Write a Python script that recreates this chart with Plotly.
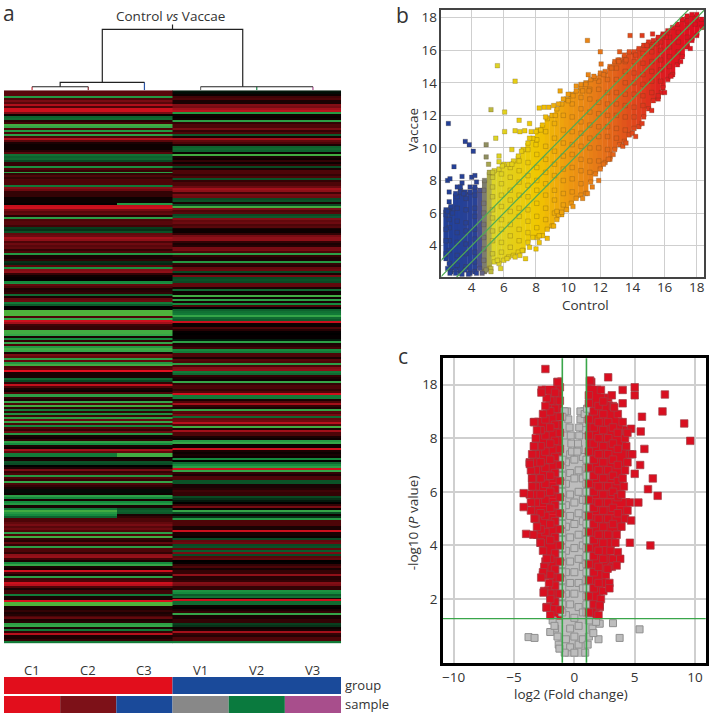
import plotly.graph_objects as go

W, H = 709, 715
def px(x): return x / W
def py(y): return 1 - y / H

# ---------- panel a: heatmap rows read top to bottom ----------
control_top = [.35,.35,.35,-.8,.3,.5,.35,.75,.3,.9,.9,.5,.05,-.45,-.5,.15,.25,-.95,-.9,.3,-.8,.3,-.85,.3,.75,.35,.1,.05,.05,.05,.15,.35,-.55,-.45,-.5,-.3,.2,.2,-.75,.3,.2,-.85,.2,.3,.2,.3]
control_mid = [.3,.3,-.6,.55,.45,.2,.2,.2,.05,.05,.05,.02,.85,.9,.5,.35,.4,.15,-.85,.3,.35,.35,.25,-.25,-.2,-.35,.4,.45,.7,.6,.3,.45,.35,.4,.2,.3,-.8,.1,.1,.2,-.2,-.15,.35,-.75,.55,.6,.2,.05,.02,.02,-.7,-.75,.4,.3,.1,.15,.2,-.5,.1,.4,.45,-.6,-.4,0,.02,-1,-1,-1,.3,-.9,.9,.7,.25,.2,.2,-.95,-.95,-.9,.1,-.7,.2,-.9,.3,-.8,-.95,-.9,.1,.5,.4,-.85,.4,-.8,-.95,.3,.35,1,.1,.1,.1,-.5,-.3,.2,.85,.3,.1,.05,.3,-.85,-.85,.2,.1,-.9,.3,-.95,.2,-.6]
control_low = [.2,-.75,.25,-.85,.4,-.9,.3,-.7,.3,.2,.45,-.8,.1,.05,.2,-.85,-.7,.1,.05,.7,.4,-.6,-.6,.05,.1,-.35,-.3,0,.1,.5,.2,.3,-.8,.3,.2,-.9,.3,.2,.1,-.05,-.05,.05,-.85,-.7,.1,-.7,-.8,.1,.1,-.6,-.95,-.8,-.7,-.45,.3,.3,.4,.5,.35,.45,.3,-.85,.3,-.95,.2,.15,.4,.2,-.85,.3,.3,.2,.6,.65,.25,.1,-.7,-.9,.1,.05,.9,.25,.1,-.85,.25,.3,.9,.8,.3,.1,.25,.25,-.6,.1,.1,.95,-1,-1,.1,.1,.2,.1,.15,.3,.4,.1,.15,-.85,-.9,.1,-.6,.2,.8,.1,.1,.2,-.6]
vaccae_top = [-.1,-.05,.05,.25,.3,.1,.1,.55,.5,.7,.8,-.8,.05,.02,.05,-.85,.2,.3,.3,.5,.2,.3,-.4,.1,.7,.4,.3,.1,-.45,-.5,-.45,.05,-.95,.1,.05,.2,.05,.2,-.3,.1,.3,.3,.2,.3,-.35,.2]
vaccae_mid = [.3,.3,.45,.7,.6,.25,.5,.45,-.3,-.35,.1,-.3,-.95,.5,.3,.35,-.3,-.4,.55,.4,.45,.3,.35,.1,.05,.05,.2,.5,.6,.6,.2,.1,.15,.5,.5,.3,-.85,.2,.1,.1,-.8,.2,.15,.4,.45,-.3,.1,.5,-.3,-.35,-.3,.4,.4,.1,-.5,.05,.05,-.95,.05,-.85,.1,-.7,.3,0,-.45,-.55,-.6,-.9,-.5,-.4,.9,.05,.05,.3,.15,.02,0,.02,.02,-.1,-.85,.1,.15,.25,-.7,-.6,.3,.3,.1,.35,.3,-.85,.3,.55,.6,-.6,-.5,.2,.1,.05,-.9,.2,.3,.3,.2,.3,.9,-.6,-.6,.1,.3,.7,.2,.1,-.9]
vaccae_low = [.35,.3,.5,-.5,.4,.45,.8,.3,-.95,.1,.7,.3,.3,.1,.05,-.8,-.9,.05,.05,.9,.1,.05,.1,.05,-.7,.02,-.5,-.7,-.85,.9,-.9,.2,.1,.3,.3,-.35,-.35,.1,.1,.15,.25,.2,.2,-.3,-.2,-.1,0,.2,.5,.05,-.9,-.3,.05,-.2,-.8,.3,.3,.3,.1,.1,.9,.1,.1,.05,-.3,.4,.45,-.3,-.35,.4,-.4,.5,-.3,.35,.4,0,.02,.2,.3,.1,.2,.2,.6,.15,.15,.2,.55,.5,.2,.2,-.75,-.7,-.4,-.55,.1,.9,-.5,-.5,.05,.02,.1,.2,-.9,.1,.1,.2,.2,-.25,-.2,.05,.1,.7,.2,.15,.3,.3,-.6]
c3_mid_overrides = {11: -.8}
c3_low_overrides = {21: -.95, 22: -.95, 49: -.35, 50: -.45, 51: -.4, 52: .1, 53: .2}

control_rows = control_top + control_mid + control_low
vaccae_rows = vaccae_top + vaccae_mid + vaccae_low
control_c3 = list(control_rows)
for k, v in c3_mid_overrides.items():
    control_c3[len(control_top) + k] = v
for k, v in c3_low_overrides.items():
    control_c3[len(control_top) + len(control_mid) + k] = v
heat_scale = [[0,"#4fb23c"],[.05,"#35a548"],[.15,"#158a3e"],[.35,"#0a4a24"],[.5,"#000000"],[.65,"#4d0508"],[.8,"#8e1018"],[1,"#e2101f"]]

col_labels = ["C1","C2","C3","V1","V2","V3"]
group_colors = ["#e20e1c","#1a4a9a"]
sample_colors = ["#e20e1c","#7d1118","#1a4a9a","#888888","#0a7a3e","#a84e8c"]

dendro = [
    ([.5,.5],[0,3.5],"#c8323c"),([1.5,1.5],[0,3.5],"#8a2a30"),([2.5,2.5],[0,8],"#2a55a8"),
    ([3.5,3.5],[0,3.5],"#777777"),([4.5,4.5],[0,3.5],"#1a8a4a"),([5.5,5.5],[0,3.5],"#a84e8c"),
    ([.5,.5,1.5,1.5],[3.5,3.5,3.5,3.5],"#222222"),
    ([1,1,2.5],[3.5,8,8],"#222222"),
    ([3.5,5.5],[3.5,3.5],"#222222"),
    ([1.75,1.75,4.25,4.25],[8,61,61,3.5],"#222222"),
    ([3,3],[61,66],"#222222"),
]

# ---------- panel b: cloud limits per Control column ----------
cloud_x = [2.4,2.7,3.0,3.3,3.6,3.9,4.2,4.5,4.8,5.1,5.4,5.7,6.0,6.3,6.6,6.9,7.2,7.5,7.8,8.1,8.4,8.7,9.0,9.3,9.6,9.9,10.2,10.5,10.8,11.1,11.4,11.7,12.0,12.3,12.6,12.9,13.2,13.5,13.8,14.1,14.4,14.7,15.0,15.3,15.6,15.9,16.2,16.5,16.8,17.1,17.4,17.7,18.0,18.3]
cloud_low = [3.2,2.4,2.5,2.3,2.5,2.3,2.4,2.6,2.4,2.6,3.0,2.9,3.1,3.3,3.4,3.6,3.7,4.2,4.5,4.5,4.6,5.0,5.2,5.6,5.9,6.2,6.6,6.9,7.1,7.2,7.9,8.4,8.7,9.1,9.3,9.9,10.2,10.4,10.8,11.2,11.3,11.9,12.4,12.9,13.0,13.7,14.2,14.5,15.1,15.6,16.2,16.6,16.9,17.4]
cloud_high = [6.2,6.4,7.2,7.4,7.3,7.3,7.6,7.4,8.0,8.5,8.6,8.7,9.0,9.0,9.2,9.5,9.9,10.3,10.6,11.1,11.4,11.8,12.0,12.4,12.7,13.0,13.3,13.5,13.7,14.0,14.2,14.3,14.6,14.7,15.0,15.3,15.4,15.7,15.9,15.9,16.1,16.3,16.5,16.6,16.8,17.0,17.2,17.4,17.6,17.9,18.1,18.2,18.2,17.9]
interior_x = [2.6,3.1,3.65,4.2,4.75,5.3,5.85,6.4,6.95,7.5,8.05,8.6,9.15,9.7,10.25,10.8,11.35,11.9,12.45,13.0,13.55,14.1,14.65,15.2,15.75,16.3,16.85,17.4,17.9]
interior_y = [
 [2.9,3.7,4.3,5.1,5.6,6.1,6.7],[2.8,3.4,4.2,4.8,5.5,6.3,7.0],[2.7,3.5,4.1,4.9,5.4,6.2,6.9],[3.0,3.6,4.4,5.0,5.8,6.3,7.1],
 [3.1,3.8,4.5,5.3,6.0,6.6,7.4],[3.5,4.3,4.9,5.7,6.2,7.0,7.6,8.2],[3.6,4.2,5.0,5.6,6.4,7.1,7.8,8.4],[3.9,4.6,5.3,6.1,6.8,7.4,8.2,8.8],
 [4.3,5.0,5.8,6.3,7.1,7.9,8.6,9.2],[4.8,5.5,6.2,7.0,7.7,8.3,9.1,9.9],[5.1,5.8,6.6,7.4,8.0,8.8,9.6,10.5],[5.6,6.3,7.1,7.8,8.5,9.3,10.1,11.0],
 [6.0,6.8,7.4,8.3,9.0,9.8,10.6,11.5],[6.5,7.2,8.0,8.7,9.5,10.3,11.1,12.0],[7.3,8.1,8.8,9.6,10.2,11.0,11.9,12.7],[7.8,8.6,9.3,10.1,10.9,11.6,12.4,13.1],
 [8.5,9.2,10.0,10.6,11.4,12.2,13.0,13.6],[9.2,10.0,10.7,11.3,12.1,12.8,13.6,14.1],[9.9,10.7,11.3,12.0,12.7,13.4,14.2],[10.6,11.2,12.0,12.7,13.4,14.2,14.9],
 [11.1,11.9,12.6,13.3,14.0,14.7,15.3],[11.9,12.5,13.3,14.0,14.6,15.3],[12.6,13.2,13.9,14.5,15.2,15.8],[13.4,14.1,14.7,15.3,15.9,16.2],
 [14.1,14.8,15.4,16.0,16.5],[15.0,15.6,16.2,16.8],[15.9,16.5,17.1],[16.8,17.4,17.8],[17.6,18.0]]
rim_x = [5.3,5.9,6.5,7.1,7.6,8.0,8.3,8.6,9.2,9.4,10.0,10.3,10.9,11.3,11.6,12.2,12.7,13.1,13.6,14.2,14.9,15.5,16.1,5.6,6.2,6.7,7.0,7.6,8.2,9.1,9.4,10.3,10.9,11.5,11.9,12.2,12.8,13.4,14.0,14.6,15.2,15.8,16.4,17.0,17.6,2.4,2.4,2.4,2.4,2.5,2.8,2.5,2.65,3.0,3.4,3.8,4.3]
rim_y = [8.5,8.9,9.0,9.8,10.6,10.2,11.1,11.9,12.0,12.7,12.9,13.2,13.5,13.5,14.4,14.5,14.9,15.4,15.4,15.7,16.3,16.4,16.8,3.1,3.2,3.3,3.4,3.9,4.2,5.2,5.9,6.4,6.9,7.6,8.0,9.0,9.6,10.1,10.9,11.5,12.3,13.4,14.4,15.3,16.1,3.5,4.3,5.0,5.9,6.1,6.0,2.6,2.3,2.3,2.25,2.25,2.3]
outlier_x = [2.55,3.6,3.85,4.1,2.9,2.5,2.65,3.4,4,4.2,3.4,3.1,3.3,4.3,3.9,2.6,3.3,3.5,5.6,6.7,5.2,6.05,6.95,7.6,6.05,6.7,7,7.3,5.5,7.7,8,8.2,8.5,8.8,9.1,9.5,9.7,10,10.5,10.8,11.1,11.25,11.2,12,12.05,13.15,13.2,13.85,14.6,15.25,15.9,4.9,4.9,5.05,5.7,5.7,6.5,8,7.35,7.15,5.2,5.8,5.2,8.7,8.2,9.6,9.3,14.2,13.6,12.5,11.2,16,15.6,4.9,4.65]
outlier_y = [11.5,10.4,10.2,9.8,8.85,8,8.1,8.25,8.2,8.3,7.85,7.6,7.6,7.9,7.6,7.3,7.3,7.2,15.05,14.1,12.35,12.2,11.7,11.5,11,11.05,11,11.05,10.6,11,11,12.45,12.5,12.5,12.6,13.5,13,13.3,13.8,13.9,13.9,14.5,16.6,15.9,15.15,15.3,15.9,16.9,16.9,17,16.9,10.2,9.45,9,9.5,9.15,9.9,3.8,3.2,3.7,2.6,2.6,2.4,4.45,4.6,6.05,6.1,10.7,10.3,9.3,7.2,13.4,13.2,2.5,2.3]
b_ticks = [4,6,8,10,12,14,16,18]
fold_lines = [-1,0,1]
expr_scale = [[0,"#1f3f99"],[.14,"#2a4296"],[.158,"#5a5a8a"],[.18,"#9a9a58"],[.206,"#dcd428"],[.364,"#f0c800"],[.485,"#ee9a10"],[.606,"#e67518"],[.727,"#e04a1c"],[.848,"#de1a20"],[1,"#e00a20"]]

# ---------- panel c: limits per row of the y axis ----------
red_y = [1.4,1.7,2.0,2.3,2.6,2.9,3.2,3.5,3.8,4.1,4.4,4.7,5.0,5.3,5.6,5.9,6.2,6.5,6.8,7.1,7.4,7.7,8.0,8.3,8.6,8.9,9.2,9.5,9.8,10.1]
red_left = [-2.0,-2.3,-2.0,-2.5,-2.1,-2.6,-2.5,-2.3,-2.6,-2.8,-3.4,-3.1,-3.3,-3.6,-3.6,-3.7,-3.5,-3.5,-3.6,-3.7,-3.5,-3.3,-3.2,-3.1,-3.3,-2.6,-2.4,-2.3,-2.7,-1.4]
red_right = [2.0,2.1,2.2,2.4,2.9,2.6,3.1,3.2,3.0,3.4,3.5,3.9,4.2,4.4,4.6,3.9,4.1,4.0,4.2,4.4,4.6,4.3,4.2,4.3,4.0,3.6,3.2,2.8,2.2,1.4]
red_out_x = [-2.4,-1.38,-2.73,-3.36,-3.36,-3.7,-3.5,-4.2,-4.2,-4.0,-2.8,-2.6,-2.75,-2.55,-2.3,2.8,1.3,5,4,5,7.5,3.1,2.4,4,3.3,7.3,5.6,9.1,5.5,9.6,4.7,4.4,5.8,4.8,5.45,5,6.5,6.1,6.9,5.3,4.7,4.6,6.3,3.6,3.8,3.5,2.9,2.75,2.1]
red_out_y = [10.58,10.09,9.7,8.6,7.7,7.04,6.5,5.95,5.43,4.43,4.1,3.0,2.8,2.24,1.68,10.27,10.15,9.9,9.8,9.6,9.63,9.6,9.37,9.3,9.15,9,8.8,8.55,8.25,7.9,8.35,8.2,7.6,7.4,7.0,6.67,6.5,6.1,5.85,5.6,4.93,4.1,4,3.75,3.5,3.25,2.4,3.13,1.76]
red_in_x = [-1.2,-1.6,-2.0,-2.4,-2.8,-3.2,1.2,1.6,2.0,2.4,2.8,3.2,3.6]
red_in_y = [
 [1.6,2.2,2.8,3.4,4,4.6,5.2,5.8,6.4,7,7.6,8.2,8.8,9.4,9.9],[1.9,2.5,3.1,3.7,4.3,4.9,5.5,6.1,6.7,7.3,7.9,8.5,9.1,9.7],
 [2.2,2.9,3.5,4.2,4.8,5.4,6,6.6,7.2,7.8,8.4,9.0,9.4],[3.4,4.5,5.1,5.7,6.3,6.9,7.5,8.1,8.7],[4.6,5.2,5.9,6.5,7.1,7.7,8.3],[5.0,5.6,6.2,6.8,7.4],
 [1.5,2.1,2.7,3.3,3.9,4.5,5.1,5.7,6.3,6.9,7.5,8.1,8.7,9.3,9.6],[1.8,2.4,3.0,3.6,4.2,4.8,5.4,6.0,6.6,7.2,7.8,8.4,9.0],
 [2.6,3.2,3.8,4.4,5.0,5.6,6.2,6.8,7.4,8.0,8.6,9.2],[3.5,4.1,4.7,5.3,5.9,6.5,7.1,7.7,8.3,8.9],[4.4,5.0,5.6,6.2,6.8,7.4,8.0,8.6],[4.8,5.4,6.0,6.6,7.2,7.8,8.4],[5.2,5.8,6.4,7,7.6,8.2]]
red_limit = [-.95,.95]
grey_y = [0.0,.3,.6,.9,1.2,1.5,1.8,2.1,2.4,2.7,3.0,3.3,3.6,3.9,4.2,4.5,4.8,5.1,5.4,5.7,6.0,6.3,6.6,6.9,7.2]
grey_left = [-.8,-1.3,-1.4,-1.6,-1.8,-1,-1,-1,-1,-1,-1,-1,-1,-1,-1,-1,-1,-1,-1,-1,-1,-1,-1,-1,-1]
grey_right = [.9,1.1,1.2,1.5,1.2,1,1,1,1,1,1,1,1,1,1,1,1,1,1,1,1,1,1,1,1]
notch_y = [7.5,7.8,8.1,8.4,8.7,9.0]
notch_left = [-.2,-.25,-.3,-.4,-.5,-.6]
notch_right = [.25,.3,.4,.4,.5,.5]
grey_out_x = [-3.8,-3.3,-2,3.2,5.4,3.75,2,2.1,1.8,1.57,-1.24,-1.65,-.8,-1.0,.85,1.05]
grey_out_y = [.58,.55,.77,1.1,.87,.55,.5,1.08,1.15,.73,.15,1.0,9.0,8.8,8.9,9.1]
grey_in_x = [-.7,-.35,0,.35,.7]
grey_in_y = [[.5,1.4,2.2,3.0,3.8,4.7,5.5,6.3,7.1,8.1],[.2,.9,1.8,2.6,3.4,4.3,5.1,5.9,6.7,7.4],[0,.6,1.3,2.2,3.0,3.9,4.8,5.6,6.5,7.2],[.3,1.0,1.7,2.6,3.5,4.4,5.2,6.0,6.8,7.6],[.5,1.5,2.4,3.2,4.0,4.9,5.7,6.5,7.3,8.3]]
c_xticks = [-10,-5,0,5,10]
c_ytick_pos = [2,4,6,8,10]
c_ytick_text = ["2","4","6","8","18"]
fold_thresholds = [-1,1]
p_threshold = 1.27

def flatten(xs, yss):
    fx, fy = [], []
    for x, ys in zip(xs, yss):
        fx += [x] * len(ys)
        fy += ys
    return fx, fy

fig = go.Figure()
n_c, n_v = len(control_rows), len(vaccae_rows)
fig.add_trace(go.Heatmap(
    x=[.5,1.5,2.5], y=[(i+.5)/n_c for i in range(n_c)],
    z=[[v, v, c3] for v, c3 in zip(control_rows, control_c3)],
    zmin=-1, zmax=1, colorscale=heat_scale, showscale=False, xaxis="x", yaxis="y"))
fig.add_trace(go.Heatmap(
    x=[3.5,4.5,5.5], y=[(i+.5)/n_v for i in range(n_v)],
    z=[[v, v, v] for v in vaccae_rows],
    zmin=-1, zmax=1, colorscale=heat_scale, showscale=False, xaxis="x", yaxis="y"))
for xs, ys, c in dendro:
    fig.add_trace(go.Scatter(x=xs, y=ys, mode="lines", line=dict(color=c, width=1.2), xaxis="x", yaxis="y2"))
fig.add_trace(go.Bar(x=[1.5,4.5], y=[17,17], base=[19,19], width=[3,3], marker=dict(color=group_colors, line_width=0), xaxis="x", yaxis="y3"))
fig.add_trace(go.Bar(x=[.5,1.5,2.5,3.5,4.5,5.5], y=[17]*6, base=[0]*6, width=[1]*6, marker=dict(color=sample_colors, line_width=0), xaxis="x", yaxis="y3"))

# panel b
fig.add_trace(go.Bar(x=cloud_x, y=[h-l for h,l in zip(cloud_high,cloud_low)], base=cloud_low, width=.32,
    marker=dict(color=cloud_x, colorscale=expr_scale, cmin=2, cmax=18.5, line_width=0), xaxis="x2", yaxis="y4"))
ix, iy = flatten(interior_x, interior_y)
edge_x = ix + cloud_x + cloud_x + rim_x + outlier_x
edge_y = iy + cloud_low + cloud_high + rim_y + outlier_y
fig.add_trace(go.Scatter(x=edge_x, y=edge_y, mode="markers", xaxis="x2", yaxis="y4",
    marker=dict(symbol="square", size=4.5, color=edge_x, colorscale=expr_scale, cmin=2, cmax=18.5, line=dict(width=.6, color="rgba(80,60,30,.4)"))))
for f in fold_lines:
    fig.add_trace(go.Scatter(x=[1, 20], y=[1+f, 20+f], mode="lines", line=dict(color="#4faa55", width=1.2), xaxis="x2", yaxis="y4"))

# panel c
GREY = dict(symbol="square", size=7, color="#bdbdbd", line=dict(width=1, color="#8f8f8f"))
RED = dict(symbol="square", size=7.5, color="#d90f20", line=dict(width=.7, color="#a04048"))
fig.add_trace(go.Bar(orientation="h", y=grey_y, x=[r-l for l,r in zip(grey_left,grey_right)], base=grey_left, width=.32,
    marker=dict(color="#bdbdbd", line_width=0), xaxis="x3", yaxis="y5"))
fig.add_trace(go.Bar(orientation="h", y=notch_y, x=[v+1 for v in notch_left], base=[-1]*len(notch_y), width=.32,
    marker=dict(color="#bdbdbd", line_width=0), xaxis="x3", yaxis="y5"))
fig.add_trace(go.Bar(orientation="h", y=notch_y, x=[1-v for v in notch_right], base=notch_right, width=.32,
    marker=dict(color="#bdbdbd", line_width=0), xaxis="x3", yaxis="y5"))
gx, gy = flatten(grey_in_x, grey_in_y)
fig.add_trace(go.Scatter(x=gx+grey_left+grey_right+notch_left+notch_right+grey_out_x, y=gy+grey_y+grey_y+notch_y+notch_y+grey_out_y,
    mode="markers", marker=GREY, xaxis="x3", yaxis="y5"))
fig.add_trace(go.Bar(orientation="h", y=red_y, x=[red_limit[0]-v for v in red_left], base=red_left, width=.32,
    marker=dict(color="#d90f20", line_width=0), xaxis="x3", yaxis="y5"))
fig.add_trace(go.Bar(orientation="h", y=red_y, x=[v-red_limit[1] for v in red_right], base=[red_limit[1]]*len(red_y), width=.32,
    marker=dict(color="#d90f20", line_width=0), xaxis="x3", yaxis="y5"))
rx, ry = flatten(red_in_x, red_in_y)
fig.add_trace(go.Scatter(x=rx+red_left+red_right+red_out_x, y=ry+red_y+red_y+red_out_y, mode="markers", marker=RED, xaxis="x3", yaxis="y5"))
for f in fold_thresholds:
    fig.add_trace(go.Scatter(x=[f,f], y=[-1,12], mode="lines", line=dict(color="#3aa64a", width=1.6), xaxis="x3", yaxis="y5"))
fig.add_trace(go.Scatter(x=[-12,12], y=[p_threshold,p_threshold], mode="lines", line=dict(color="#3aa64a", width=1.3), xaxis="x3", yaxis="y5"))

TXT = "#333333"
FONT = "Open Sans"
hidden = dict(visible=False, showgrid=False, zeroline=False)
grid = "#cfcfcf"
b_axis = dict(showline=True, mirror=True, linecolor="#444444", linewidth=1.5, showgrid=True, gridcolor=grid, gridwidth=1.2,
              zeroline=False, ticks="", tickfont=dict(size=13.5, color=TXT, family=FONT))
c_axis = dict(showline=True, mirror=True, linecolor="#000000", linewidth=2.5, showgrid=True, gridcolor=grid, gridwidth=1.5,
              zeroline=False, ticks="", tickfont=dict(size=13.5, color=TXT, family=FONT))

def ann(text, x, y, size=13, angle=0, anchor="center"):
    return dict(text=text, x=px(x), y=py(y), xref="paper", yref="paper", showarrow=False, xanchor=anchor, yanchor="middle",
                textangle=angle, font=dict(size=size, color=TXT, family=FONT))

annotations = [
    ann("a", 8, 11, 21), ann("b", 403, 13, 21), ann("c", 403, 355, 21),
    ann("Control <i>vs</i> Vaccae", 170, 14, 13.5),
    ann("group", 343, 685, 13, anchor="left"), ann("sample", 343, 704, 13, anchor="left"),
    ann("Control", 586, 304, 13.5), ann("Vaccae", 413, 128, 13.5, -90),
    ann("log2 (Fold change)", 572, 694, 13.5), ann("-log10 (<i>P</i> value)", 413, 522, 13.5, -90),
]
for i, lab in enumerate(col_labels):
    annotations.append(dict(text=lab, x=i+.5, xref="x", y=py(670), yref="paper", showarrow=False, yanchor="middle",
                            font=dict(size=13, color=TXT, family=FONT)))

fig.update_layout(
    width=W, height=H, margin=dict(l=0,r=0,t=0,b=0), paper_bgcolor="white", plot_bgcolor="white",
    showlegend=False, barmode="overlay", font=dict(family=FONT), annotations=annotations,
    xaxis=dict(domain=[px(3),px(341)], range=[0,6], anchor="y", **hidden),
    yaxis=dict(domain=[py(643.5),py(88.5)], range=[1,0], anchor="x", **hidden),
    yaxis2=dict(domain=[py(88.5),py(15)], range=[0,73.5], anchor="x", **hidden),
    yaxis3=dict(domain=[py(713),py(677)], range=[0,36], anchor="x", **hidden),
    xaxis2=dict(domain=[px(441.7),px(705)], range=[2.12,18.45], anchor="y4", tickvals=b_ticks, ticklabelstandoff=-3, **b_axis),
    yaxis4=dict(domain=[py(276),py(8)], range=[2.06,18.47], anchor="x2", tickvals=b_ticks, **b_axis),
    xaxis3=dict(domain=[px(443.3),px(706.7)], range=[-10.88,10.88], anchor="y5", tickvals=c_xticks, **c_axis),
    yaxis5=dict(domain=[py(662.7),py(357.3)], range=[-.38,10.98], anchor="x3", tickvals=c_ytick_pos, ticktext=c_ytick_text, **c_axis),
)
fig.write_html("out.html", config={"displayModeBar": False},
               post_script="document.body.style.margin='0';document.body.style.overflow='hidden';")
